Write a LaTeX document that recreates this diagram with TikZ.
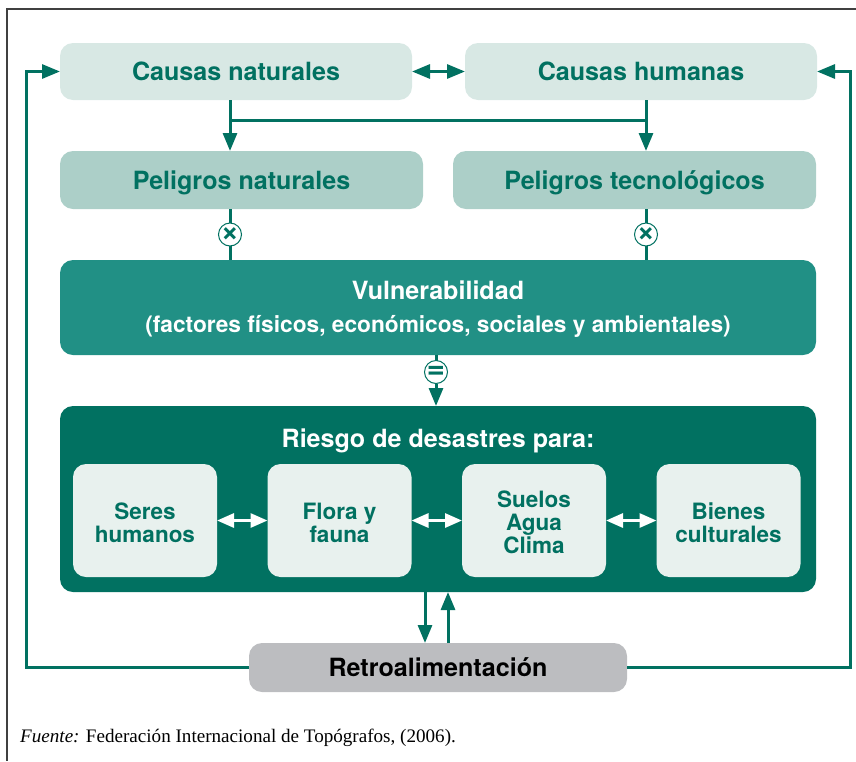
\documentclass[tikz,border=0pt]{standalone}
\usepackage{fontspec}
\setmainfont{TeX Gyre Heros}
\newfontfamily\fuentefont{Liberation Serif}
\usepackage{tikz}
\usetikzlibrary{arrows.meta, positioning}
\definecolor{verdeosc}{HTML}{017161}
\definecolor{verdemed}{HTML}{219085}
\definecolor{verdepel}{HTML}{ACCFC8}
\definecolor{verdeclaro}{HTML}{D8E8E4}
\definecolor{verdeblanco}{HTML}{E8F1EE}
\definecolor{grisretro}{HTML}{BCBDC0}
\newcommand{\bigbf}{\fontsize{25.1}{33}\selectfont\bfseries}
\newcommand{\smallbf}{\fontsize{22.5}{23}\selectfont\bfseries}
\newcommand{\bajada}[1]{\rule{0pt}{#1}}
\tikzstyle{caja} = [rectangle, rounded corners=13pt, inner sep=0pt, outer sep=0pt, text centered, align=center]
\tikzstyle{causa} = [caja, minimum width=352pt, minimum height=57pt, fill=verdeclaro, text=verdeosc, font=\bigbf, text height=18pt, text depth=0pt]
\tikzstyle{peligro} = [caja, minimum width=363pt, minimum height=58pt, fill=verdepel, text=verdeosc, font=\bigbf, text height=18pt, text depth=0pt]
\tikzstyle{vulnera} = [caja, minimum width=756pt, minimum height=95pt, fill=verdemed, text=white, font=\fontsize{22.7}{23}\selectfont\bfseries]
\tikzstyle{riesgo} = [caja, minimum width=756pt, minimum height=186pt, fill=verdeosc]
\tikzstyle{afectado} = [caja, minimum width=144pt, minimum height=113pt, fill=verdeblanco, text=verdeosc, font=\smallbf]
\tikzstyle{retro} = [caja, minimum width=378pt, minimum height=49pt, fill=grisretro, text=black, font=\bigbf, text height=18pt, text depth=0pt]
\tikzstyle{operador} = [circle, draw=verdeosc, line width=1pt, fill=white, text=verdeosc, inner sep=0pt, outer sep=0pt, minimum size=23pt, font=\fontsize{31}{31}\selectfont\bfseries]
\tikzstyle{arrow} = [line width=3pt, draw=verdeosc, ->, >={Triangle[length=18pt,width=14pt]}]
\tikzstyle{doble} = [arrow, <->]
\tikzstyle{doblewhite} = [line width=3pt, draw=white, <->, >={Triangle[length=17pt,width=14pt]}]
\tikzstyle{linea} = [line width=3pt, draw=verdeosc]

\begin{document}
\begin{tikzpicture}[x=1pt, y=1pt]
        \useasboundingbox (0,0) rectangle (856,-761);
        \draw [line width=1.2pt, draw=black!75] (856,-9) -- (7,-9) -- (7,-761);

        \node (causasnat) [causa] at (236,-71.5) {Causas naturales};
        \node (causashum) [causa, right=53pt of causasnat] {Causas humanas};
        \node (pelnat) [peligro, below of=causasnat, node distance=108.5pt, xshift=5.5pt] {Peligros naturales};
        \node (peltec) [peligro, below of=causashum, node distance=108.5pt, xshift=-6.5pt] {Peligros tecnológicos};
        \node (vuln) [vulnera, below of=pelnat, node distance=127.5pt, xshift=196.5pt] {{\bigbf\bajada{22.5pt}Vulnerabilidad}\\[10pt](factores físicos, económicos, sociales y ambientales)};
        \node (riesgo) [riesgo, below of=vuln, node distance=191.5pt] {};
        \node (riesgotit) [above of=riesgo, node distance=61pt, text=white, font=\bigbf, text height=18pt, text depth=0pt] {Riesgo de desastres para:};
        \node (seres) [afectado, below of=riesgo, node distance=21.5pt, xshift=-293pt] {\bajada{20.5pt}Seres\\humanos};
        \node (flora) [afectado, right of=seres, node distance=194.5pt] {\bajada{20.5pt}Flora y\\fauna};
        \node (suelos) [afectado, right of=flora, node distance=194.5pt] {\bajada{20.5pt}Suelos\\Agua\\Clima};
        \node (bienes) [afectado, right of=suelos, node distance=194.5pt] {\bajada{20.5pt}Bienes\\culturales};
        \node (retroal) [retro, below of=riesgo, node distance=168.5pt] {Retroalimentación};
        \node (pornat) [operador, below of=pelnat, node distance=54.5pt, xshift=-11.5pt] {×};
        \node (portec) [operador, below of=peltec, node distance=54.5pt, xshift=11.5pt] {×};
        \node (igual) [operador, below of=vuln, node distance=64.5pt, xshift=-2pt] {=};
        \node (fuente) [anchor=base west, inner sep=0pt, font=\fontsize{19.1}{20}\selectfont\fuentefont] at (20,-742) {\textit{Fuente:} Federación Internacional de Topógrafos, (2006).};

        \coordinate (ramanat) at ([yshift=-20pt]pornat |- causasnat.south);
        \coordinate (ramahum) at ([yshift=-20pt]portec |- causasnat.south);

        \draw [doble] (causasnat) -- (causashum);
        \draw [arrow] (pornat |- causasnat.south) -- (pornat |- pelnat.north);
        \draw [arrow] (portec |- causashum.south) -- (portec |- peltec.north);
        \draw [linea] (ramanat) -- (ramahum);
        \draw [linea] (pornat |- pelnat.south) -- (pornat);
        \draw [linea] (pornat) -- (pornat |- vuln.north);
        \draw [linea] (portec |- peltec.south) -- (portec);
        \draw [linea] (portec) -- (portec |- vuln.north);
        \draw [linea] (igual |- vuln.south) -- (igual);
        \draw [arrow] (igual) -- (igual |- riesgo.north);
        \draw [doblewhite] (seres) -- (flora);
        \draw [doblewhite] (flora) -- (suelos);
        \draw [doblewhite] (suelos) -- (bienes);
        \draw [arrow] ([xshift=-13pt]retroal.north |- riesgo.south) -- ([xshift=-13pt]retroal.north);
        \draw [arrow] ([xshift=10pt]retroal.north) -- ([xshift=10pt]retroal.north |- riesgo.south);
        \draw [arrow] (retroal.west) -- ++(-223,0) |- (causasnat.west);
        \draw [arrow] (retroal.east) -- ++(223,0) |- (causashum.east);
    \end{tikzpicture}
\end{document}
